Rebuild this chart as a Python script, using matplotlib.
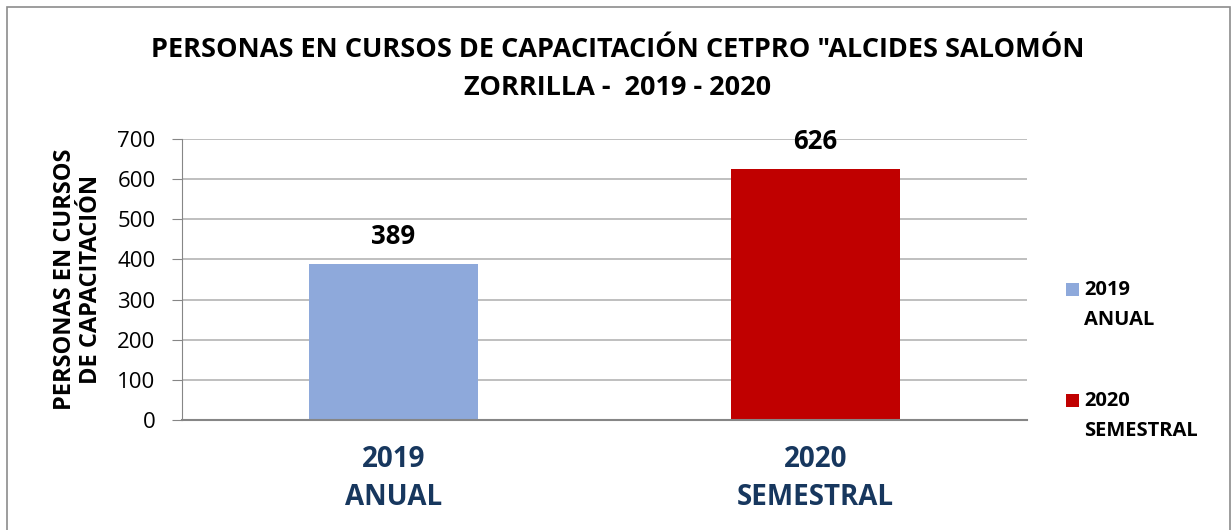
import matplotlib
matplotlib.use("Agg")
import matplotlib.pyplot as plt
from matplotlib.patches import Rectangle

plt.rcParams["font.family"] = ["Open Sans", "DejaVu Sans"]

categories = ["2019\nANUAL", "2020\nSEMESTRAL"]
values = [389, 626]
colors = ["#8EA9DB", "#C00000"]
yticks = [0, 100, 200, 300, 400, 500, 600, 700]

title = 'PERSONAS EN CURSOS DE CAPACITACIÓN CETPRO "ALCIDES SALOMÓN\nZORRILLA -  2019 - 2020'
ylabel = "PERSONAS EN CURSOS\nDE CAPACITACIÓN"

W, H = 1232, 530
fig = plt.figure(figsize=(W / 100, H / 100), dpi=100)
ax = fig.add_axes([182/W, 1 - 420/H, (1027 - 182)/W, (420 - 139)/H])

# outer chart border
fig.patches.append(Rectangle((7/W, -0.05), (1230 - 7)/W, 1.05 - 7/H,
                             transform=fig.transFigure, fill=False,
                             edgecolor="#8C8C8C", linewidth=1.2))

x = list(range(len(categories)))
bars = ax.bar(x, values, width=0.4, color=colors, zorder=2)

for xi, v in zip(x, values):
    ax.text(xi, v + 68, str(v), ha="center", va="center",
            fontsize=18.5, fontweight="bold", color="black", zorder=3)

ax.set_xlim(-0.5, 1.5)
ax.set_ylim(0, 700)
ax.set_yticks(yticks)
ax.set_yticklabels([str(t) for t in yticks], fontsize=16)
ax.set_xticks(x)
ax.set_xticklabels(categories, fontsize=20, fontweight="bold", color="#17375E",
                   linespacing=1.4)
ax.tick_params(axis="x", length=0, pad=18)
ax.tick_params(axis="y", length=7, color="#868686", pad=12)

ax.grid(axis="y", color="#B4B4B4", linewidth=1.2, zorder=0)
for s in ["top", "right"]:
    ax.spines[s].set_visible(False)
ax.spines["left"].set_color("#868686")
ax.spines["bottom"].set_color("#868686")
ax.spines["bottom"].set_linewidth(1.5)

ax.set_ylabel(ylabel, fontsize=17, fontweight="bold", labelpad=10, linespacing=1.15)

fig.text(618/W, 1 - 69/H, title, ha="center", va="center",
         fontsize=19.5, fontweight="bold", linespacing=1.6)

# legend on the right, marker aligned with the first line of each label
for i, (lab, c) in enumerate(zip(categories, colors)):
    ytop = 280 + i * 111
    fig.patches.append(Rectangle((1066/W, 1 - (ytop + 16)/H), 13/W, 13/H,
                                 transform=fig.transFigure, facecolor=c,
                                 edgecolor="none"))
    fig.text(1084/W, 1 - ytop/H, lab, ha="left", va="top", fontsize=14.5,
             fontweight="bold", linespacing=1.65)

fig.savefig("out.png", dpi=100)
